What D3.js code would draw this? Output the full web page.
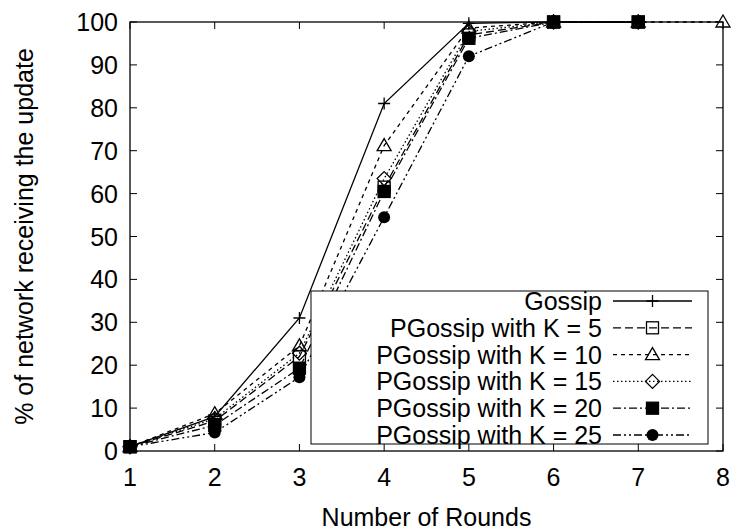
<!DOCTYPE html>
<html>
<head>
<meta charset="utf-8">
<script src="https://cdn.jsdelivr.net/npm/d3@7"></script>
<style>
  body { margin: 0; background: #fff; }
  svg { font-family: "Liberation Sans", Arial, Helvetica, sans-serif; }
</style>
</head>
<body>
<div id="chart"></div>
<script>
var width = 738, height = 531;
var margin = {top: 22, right: 15, bottom: 80, left: 130};
var fs = 25;

var xTicks = [1, 2, 3, 4, 5, 6, 7, 8];
var yTicks = [0, 10, 20, 30, 40, 50, 60, 70, 80, 90, 100];

var seriesNames = ["Gossip", "PGossip with K = 5", "PGossip with K = 10",
                   "PGossip with K = 15", "PGossip with K = 20", "PGossip with K = 25"];

var gossip = [[1, 1], [2, 8], [3, 31], [4, 81], [5, 99.7], [6, 100], [7, 100]];
var k5     = [[1, 1], [2, 7], [3, 22], [4, 61.5], [5, 97], [6, 100], [7, 100]];
var k10    = [[1, 1], [2, 8.7], [3, 24.5], [4, 71.2], [5, 98.6], [6, 100], [7, 100], [8, 100]];
var k15    = [[1, 1], [2, 7.5], [3, 22.8], [4, 63.5], [5, 97.8], [6, 100], [7, 100]];
var k20    = [[1, 1], [2, 6], [3, 19.3], [4, 60.5], [5, 96.2], [6, 100], [7, 100]];
var k25    = [[1, 1], [2, 4.3], [3, 17.2], [4, 54.5], [5, 92], [6, 100], [7, 100]];

var allSeries = [gossip, k5, k10, k15, k20, k25];
var dashes = [null, "8,4", "4,4", "1.5,2.5", "8,3,2,3", "8,3,2,3,2,3"];
var markers = ["plus", "square", "triangle", "diamond", "fsquare", "circle"];

var svg = d3.select("#chart").append("svg")
    .attr("width", width)
    .attr("height", height);

var x = d3.scaleLinear().domain([1, 8]).range([margin.left, width - margin.right]);
var y = d3.scaleLinear().domain([0, 100]).range([height - margin.bottom, margin.top]);

var x0 = x.range()[0], x1 = x.range()[1], y0 = y.range()[0], y1 = y.range()[1];
var tick = 7;

// ticks (mirrored, inward)
var axes = svg.append("g").attr("stroke", "#000").attr("stroke-width", 1);
xTicks.forEach(function (t) {
    axes.append("line").attr("x1", x(t)).attr("x2", x(t)).attr("y1", y0).attr("y2", y0 - tick);
    axes.append("line").attr("x1", x(t)).attr("x2", x(t)).attr("y1", y1).attr("y2", y1 + tick);
});
yTicks.forEach(function (t) {
    axes.append("line").attr("x1", x0).attr("x2", x0 + tick).attr("y1", y(t)).attr("y2", y(t));
    axes.append("line").attr("x1", x1).attr("x2", x1 - tick).attr("y1", y(t)).attr("y2", y(t));
});

svg.append("g").selectAll("text")
    .data(xTicks).enter().append("text")
    .attr("x", function (d) { return x(d); })
    .attr("y", y0 + 35)
    .attr("text-anchor", "middle")
    .attr("font-size", fs)
    .text(function (d) { return d; });

svg.append("g").selectAll("text")
    .data(yTicks).enter().append("text")
    .attr("x", x0 - 12)
    .attr("y", function (d) { return y(d) + 9; })
    .attr("text-anchor", "end")
    .attr("font-size", fs)
    .text(function (d) { return d; });

svg.append("text")
    .attr("x", (x0 + x1) / 2)
    .attr("y", height - 5)
    .attr("text-anchor", "middle")
    .attr("font-size", fs)
    .text("Number of Rounds");

svg.append("text")
    .attr("transform", "translate(33," + ((y0 + y1) / 2) + ") rotate(-90)")
    .attr("text-anchor", "middle")
    .attr("font-size", fs)
    .text("% of network receiving the update");

function drawMarker(g, type, cx, cy) {
    var s = 6;
    if (type == "plus") {
        g.append("path").attr("d", "M" + (cx - s) + "," + cy + "H" + (cx + s) + "M" + cx + "," + (cy - s) + "V" + (cy + s))
            .attr("stroke", "#000").attr("stroke-width", 1.3).attr("fill", "none");
    } else if (type == "square" || type == "fsquare") {
        g.append("rect").attr("x", cx - s).attr("y", cy - s).attr("width", 2 * s).attr("height", 2 * s)
            .attr("stroke", "#000").attr("stroke-width", 1.3)
            .attr("fill", type == "fsquare" ? "#000" : "none");
    } else if (type == "triangle") {
        g.append("path").attr("d", "M" + cx + "," + (cy - s - 1) + "L" + (cx + s + 1) + "," + (cy + s - 1) + "L" + (cx - s - 1) + "," + (cy + s - 1) + "Z")
            .attr("stroke", "#000").attr("stroke-width", 1.3).attr("fill", "none");
    } else if (type == "diamond") {
        g.append("path").attr("d", "M" + cx + "," + (cy - s - 1) + "L" + (cx + s + 1) + "," + cy + "L" + cx + "," + (cy + s + 1) + "L" + (cx - s - 1) + "," + cy + "Z")
            .attr("stroke", "#000").attr("stroke-width", 1.3).attr("fill", "none");
    } else if (type == "circle") {
        g.append("circle").attr("cx", cx).attr("cy", cy).attr("r", s).attr("fill", "#000");
    }
}

var line = d3.line()
    .x(function (d) { return x(d[0]); })
    .y(function (d) { return y(d[1]); });

var plot = svg.append("g");
allSeries.forEach(function (data, i) {
    plot.append("path")
        .datum(data)
        .attr("d", line)
        .attr("fill", "none")
        .attr("stroke", "#000")
        .attr("stroke-width", 1.3)
        .attr("stroke-dasharray", dashes[i]);
    data.forEach(function (d) {
        drawMarker(plot, markers[i], x(d[0]), y(d[1]));
    });
});

// legend
var legend = svg.append("g");
legend.append("rect")
    .attr("x", 311).attr("y", 291)
    .attr("width", 397).attr("height", 153)
    .attr("fill", "#fff")
    .attr("stroke", "#000").attr("stroke-width", 1);

seriesNames.forEach(function (name, i) {
    var ly = 301 + i * 26.8;
    legend.append("text")
        .attr("x", 602).attr("y", ly + 9)
        .attr("text-anchor", "end")
        .attr("font-size", fs)
        .text(name);
    legend.append("line")
        .attr("x1", 613).attr("x2", 692)
        .attr("y1", ly).attr("y2", ly)
        .attr("stroke", "#000").attr("stroke-width", 1.3)
        .attr("stroke-dasharray", dashes[i]);
    drawMarker(legend, markers[i], 652.5, ly);
});

// border
svg.append("rect")
    .attr("x", x0).attr("y", y1)
    .attr("width", x1 - x0).attr("height", y0 - y1)
    .attr("fill", "none")
    .attr("stroke", "#000").attr("stroke-width", 1.3);
</script>
</body>
</html>
